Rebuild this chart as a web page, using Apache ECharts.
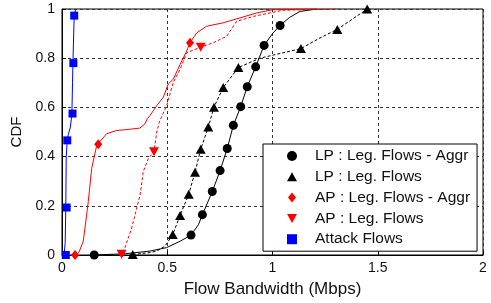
<!DOCTYPE html>
<html>
<head>
<meta charset="utf-8">
<script src="https://cdn.jsdelivr.net/npm/echarts@6/dist/echarts.min.js"></script>
<style>
  html, body { margin: 0; padding: 0; background: #fff; }
  #chart { width: 491px; height: 303px; }
</style>
</head>
<body>
<div id="chart"></div>
<script>
// x: flow bandwidth (Mbps), y: CDF
var xTicks = [0, 0.5, 1, 1.5, 2];
var yTicks = [0, 0.2, 0.4, 0.6, 0.8, 1];

var seriesNames = ['LP : Leg. Flows - Aggr', 'LP : Leg. Flows', 'AP : Leg. Flows - Aggr', 'AP : Leg. Flows', 'Attack Flows'];

// LP legit flows - aggregate (black, solid, circles)
var lpAggrLine = [[0.153,0],[0.3,0.005],[0.418,0.016],[0.497,0.03],[0.561,0.056],[0.613,0.081],[0.648,0.123],
  [0.667,0.164],[0.695,0.22],[0.714,0.258],[0.751,0.343],[0.785,0.433],[0.814,0.527],[0.849,0.603],[0.88,0.684],
  [0.92,0.765],[0.96,0.852],[1.0,0.9],[1.036,0.933],[1.08,0.965],[1.13,0.99],[1.21,1.0]];
var lpAggrMarks = [[0.153,0],[0.613,0.081],[0.667,0.164],[0.714,0.258],[0.751,0.343],[0.785,0.433],[0.814,0.527],
  [0.849,0.603],[0.88,0.684],[0.92,0.765],[0.96,0.852],[1.036,0.933]];

// LP legit flows (black, dashed, triangles)
var lpFlowLine = [[0.336,0.002],[0.42,0.01],[0.45,0.016],[0.489,0.036],[0.526,0.083],[0.561,0.161],[0.602,0.247],
  [0.632,0.336],[0.659,0.43],[0.695,0.52],[0.722,0.601],[0.766,0.681],[0.838,0.762],[0.94,0.8],[1.135,0.839],
  [1.22,0.88],[1.308,0.917],[1.45,1.0]];
var lpFlowMarks = [[0.336,0.002],[0.526,0.083],[0.561,0.161],[0.602,0.247],[0.632,0.336],[0.659,0.43],[0.695,0.52],
  [0.722,0.601],[0.766,0.681],[0.838,0.762],[1.135,0.839],[1.308,0.917],[1.45,1.0]];

// AP legit flows - aggregate (red, solid, diamonds)
var apAggrLine = [[0.062,0],[0.08,0.01],[0.101,0.056],[0.115,0.15],[0.125,0.218],[0.141,0.352],[0.165,0.446],
  [0.172,0.45],[0.212,0.493],[0.26,0.506],[0.33,0.512],[0.37,0.516],[0.394,0.533],[0.405,0.554],[0.418,0.567],
  [0.45,0.607],[0.481,0.641],[0.505,0.695],[0.529,0.715],[0.561,0.775],[0.592,0.829],[0.608,0.863],[0.64,0.903],
  [0.687,0.93],[0.766,0.944],[0.846,0.964],[0.925,0.984],[1.0,0.997],[1.21,1.0]];
var apAggrMarks = [[0.062,0],[0.172,0.45],[0.608,0.863]];

// AP legit flows (red, dashed, inverted triangles)
var apFlowLine = [[0.27,0],[0.283,0.003],[0.299,0.03],[0.331,0.11],[0.371,0.244],[0.386,0.339],[0.41,0.392],
  [0.437,0.42],[0.45,0.5],[0.462,0.54],[0.497,0.607],[0.529,0.702],[0.561,0.755],[0.592,0.822],[0.659,0.845],
  [0.719,0.863],[0.782,0.889],[0.83,0.95],[0.909,0.97],[0.988,0.984],[1.05,0.995],[1.32,1.0]];
var apFlowMarks = [[0.283,0.003],[0.437,0.42],[0.659,0.845]];

// attack flows (blue, solid, squares)
var attackLine = [[0.01,0],[0.015,0.05],[0.018,0.19],[0.02,0.4],[0.025,0.466],[0.03,0.49],[0.04,0.52],
  [0.047,0.575],[0.05,0.7],[0.052,0.78],[0.054,0.85],[0.058,0.973],[0.065,1.0]];
var attackMarks = [[0.018,0],[0.022,0.193],[0.025,0.466],[0.05,0.575],[0.054,0.78],[0.058,0.973]];

var FONT = 'Liberation Sans, Arial, sans-serif';

function lineSeries(data, color, dashed){
  return {
    type: 'line',
    data: data,
    showSymbol: false,
    silent: true,
    z: 2,
    lineStyle: { color: color, width: 1, type: dashed ? [3, 2] : 'solid' }
  };
}
function markSeries(name, data, color, symbol, size, rotate){
  return {
    name: name,
    type: 'scatter',
    data: data,
    symbol: symbol,
    symbolSize: size,
    symbolRotate: rotate || 0,
    z: 3,
    itemStyle: { color: color, opacity: 1 }
  };
}

var myChart = echarts.init(document.getElementById('chart'));
var option = {
  animation: false,
  backgroundColor: '#fff',
  grid: {
    left: 62, right: 8, top: 9, bottom: 46,
    show: true, borderColor: '#000', borderWidth: 1
  },
  legend: {
    orient: 'vertical',
    left: 263, top: 144,
    padding: [4, 7, 4, 24],
    itemGap: 4.8,
    itemWidth: 10, itemHeight: 10,
    backgroundColor: '#fff',
    borderColor: '#000', borderWidth: 1,
    selectedMode: false,
    textStyle: { fontFamily: FONT, fontSize: 15.5, color: '#111', lineHeight: 16, padding: [0, 0, 0, 13] },
    data: [
      { name: seriesNames[0], icon: 'circle' },
      { name: seriesNames[1], icon: 'path://M5,0L10,9L0,9Z' },
      { name: seriesNames[2], icon: 'path://M4,0L8,5L4,10L0,5Z' },
      { name: seriesNames[3], icon: 'path://M0,0L10,0L5,9Z' },
      { name: seriesNames[4], icon: 'rect' }
    ]
  },
  xAxis: {
    type: 'value',
    min: xTicks[0], max: xTicks[xTicks.length - 1], interval: 0.5,
    name: 'Flow Bandwidth (Mbps)',
    nameLocation: 'middle', nameGap: 26,
    nameTextStyle: { fontFamily: FONT, fontSize: 17, color: '#111' },
    axisLine: { show: true, lineStyle: { color: '#000', width: 1 } },
    axisTick: { show: true, inside: true, length: 4, lineStyle: { color: '#000' } },
    axisLabel: { fontFamily: FONT, fontSize: 14, color: '#111', margin: 6 },
    splitLine: { show: true, lineStyle: { color: '#333', width: 1, type: [3, 3] } }
  },
  yAxis: {
    type: 'value',
    min: yTicks[0], max: yTicks[yTicks.length - 1], interval: 0.2,
    name: 'CDF',
    nameLocation: 'middle', nameGap: 34,
    nameTextStyle: { fontFamily: FONT, fontSize: 15, color: '#111' },
    axisLine: { show: true, lineStyle: { color: '#000', width: 1 } },
    axisTick: { show: true, inside: true, length: 4, lineStyle: { color: '#000' } },
    axisLabel: { fontFamily: FONT, fontSize: 14, color: '#111', margin: 7 },
    splitLine: { show: true, lineStyle: { color: '#333', width: 1, type: [3, 3] } }
  },
  series: [
    lineSeries(lpAggrLine, '#000', false),
    lineSeries(lpFlowLine, '#000', true),
    lineSeries(apAggrLine, '#ff0000', false),
    lineSeries(apFlowLine, '#ff0000', true),
    lineSeries(attackLine, '#0000ff', false),
    markSeries(seriesNames[0], lpAggrMarks, '#000', 'circle', 9),
    markSeries(seriesNames[1], lpFlowMarks, '#000', 'triangle', [10, 9]),
    markSeries(seriesNames[2], apAggrMarks, '#ff0000', 'diamond', [8, 10]),
    markSeries(seriesNames[3], apFlowMarks, '#ff0000', 'triangle', [10, 9], 180),
    markSeries(seriesNames[4], attackMarks, '#0000ff', 'rect', 8)
  ]
};
myChart.setOption(option);
</script>
</body>
</html>
